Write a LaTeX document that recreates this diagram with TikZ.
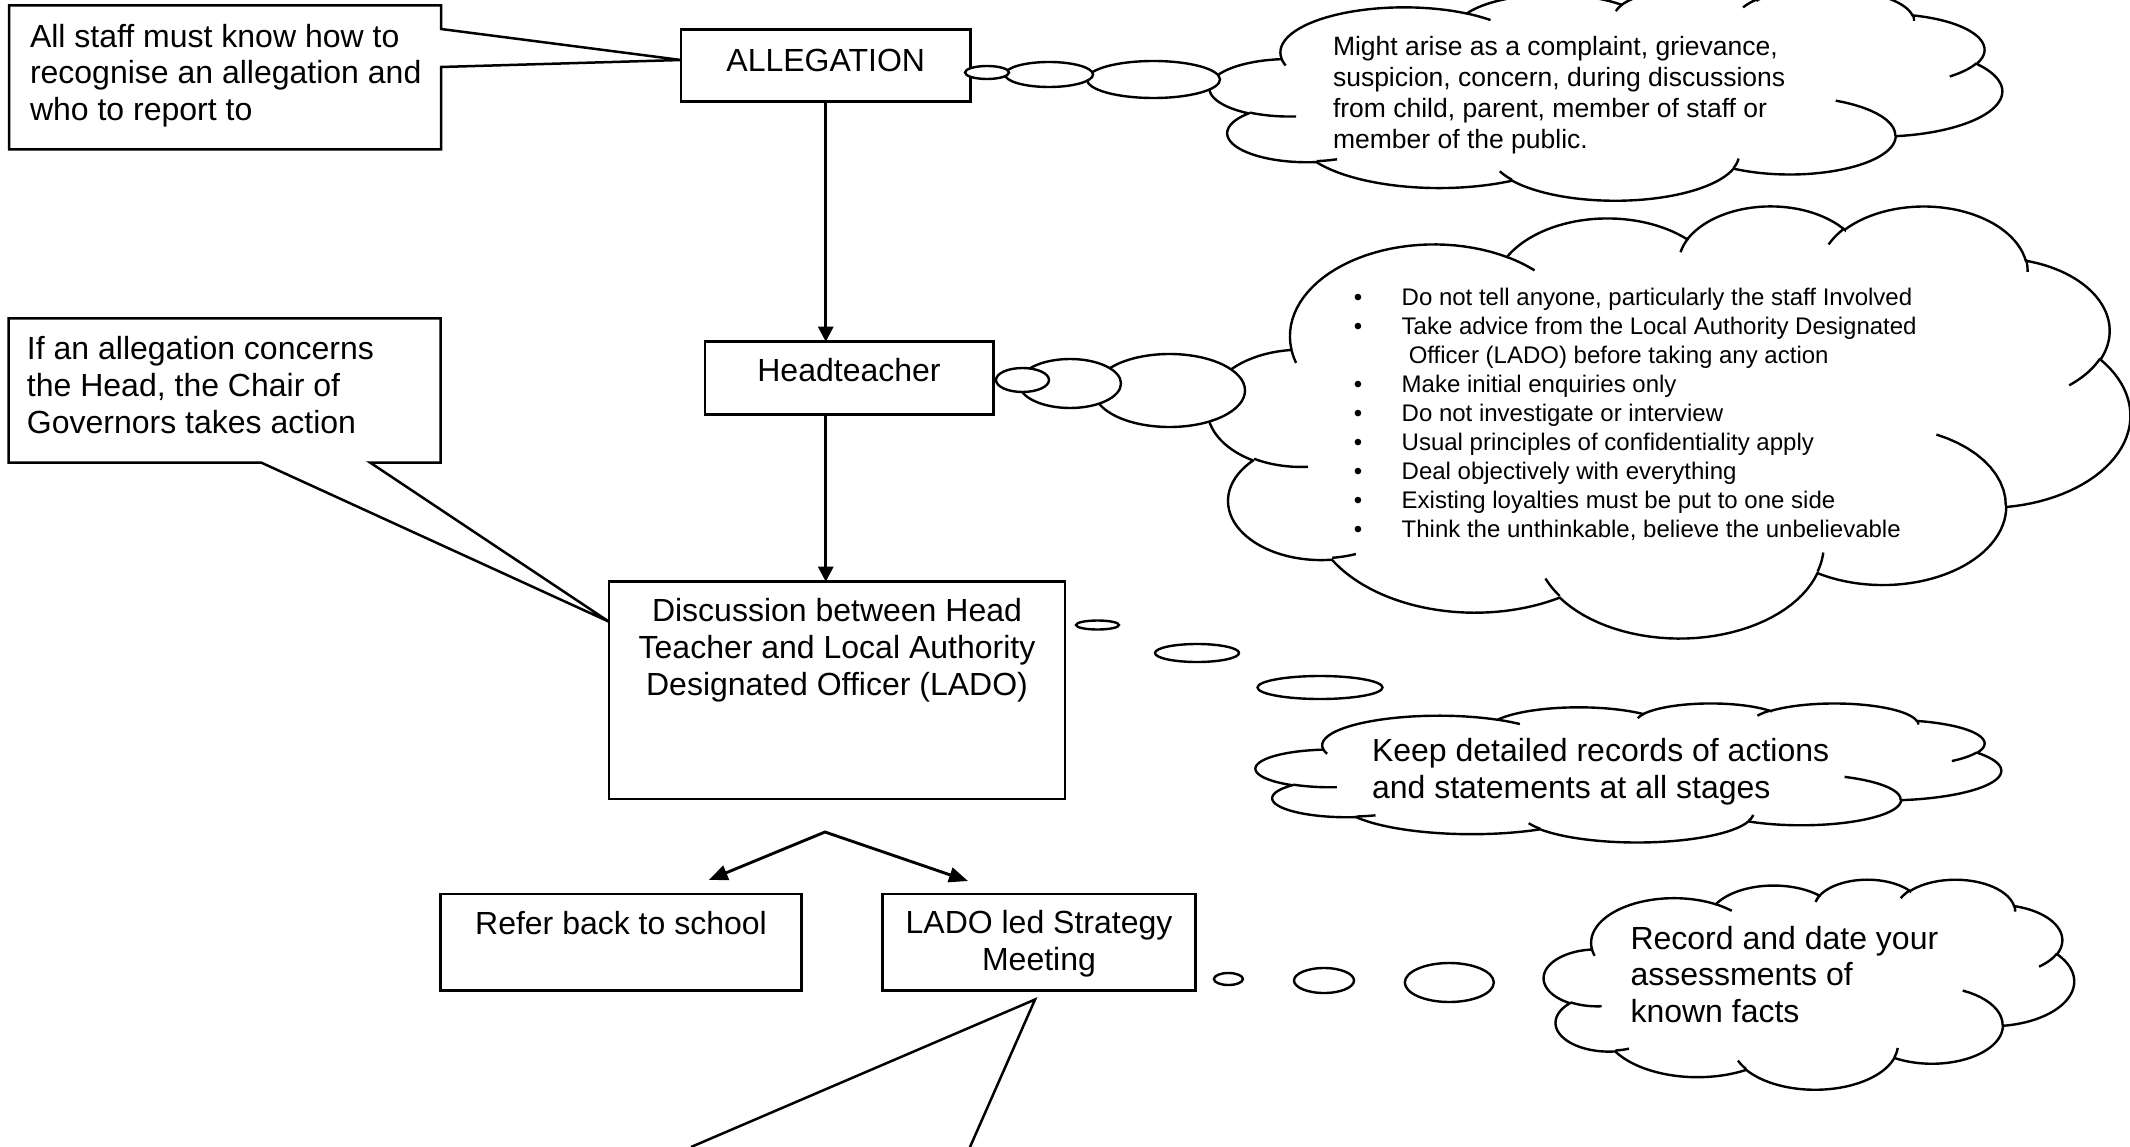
\documentclass[tikz,border=0pt]{standalone}
\usepackage{fontspec}
\setmainfont{Liberation Sans}
\usetikzlibrary{arrows.meta,shapes.geometric,calc}

\newcommand\fMain{\fontsize{32pt}{36.7pt}\selectfont}
\newcommand\fCa{\fontsize{26.5pt}{30.8pt}\selectfont}
\newcommand\fCb{\fontsize{24pt}{29.04pt}\selectfont}
\newcommand\bul{\makebox[47.9pt][l]{\textbullet}}

% Word "cloud" outline, frame 43.2 x 43.2 (y downwards), angles in degrees
\def\cldarcs{6.753/9.190/-190.48748/123.78053,5.333/7.267/-144.10238/89.94523,4.365/5.945/-145.80792/99.72302,4.857/6.595/-130.98607/117.24173,5.333/7.273/-78.70888/109.02692,6.775/9.220/-46.26725/130.269,5.785/7.867/0.62502/114.03333,6.752/9.215/22.4516/115.17255,7.720/10.543/66.24263/75.71102,4.360/5.918/-274.94208/146.73557,4.345/5.945/-246.8285/152.51885}
\def\cldinner{4.693/26.177/4.345/5.945/86.742/26.4295,6.928/34.899/4.360/5.918/73.61047/11.44747,16.478/39.090/6.752/9.215/137.62415/14.0811,28.827/34.751/6.752/9.215/6.45327/15.99835,34.129/22.954/5.785/7.867/-70.29235/70.91737,41.798/15.354/5.333/7.273/30.31803/27.7515,38.324/5.426/4.857/6.595/-13.74433/14.8589,29.078/3.952/4.857/6.595/-149.18145/18.19537,22.141/4.720/4.365/5.945/-163.49427/17.68635,14.000/5.192/6.753/9.190/-66.70695/12.31935,4.127/15.789/6.753/9.190/157.65435/11.85817}

\gdef\cldpath{}
\gdef\cldcx{3.9}\gdef\cldcy{14.37}
\foreach \clrx/\clry/\clst/\clsw in \cldarcs {%
  \pgfmathsetmacro\clta{atan2(\clrx*sin(\clst),\clry*cos(\clst))}%
  \pgfmathsetmacro\cltb{atan2(\clrx*sin(\clst+\clsw),\clry*cos(\clst+\clsw))}%
  \pgfmathsetmacro\cltb{ifthenelse(\cltb<\clta,\cltb+360,\cltb)}%
  \pgfmathsetmacro\clox{\cldcx-\clrx*cos(\clta)}%
  \pgfmathsetmacro\cloy{\cldcy-\clry*sin(\clta)}%
  \pgfmathsetmacro\clnx{\clox+\clrx*cos(\cltb)}%
  \pgfmathsetmacro\clny{\cloy+\clry*sin(\cltb)}%
  \xdef\cldcx{\clnx}\xdef\cldcy{\clny}%
  \xdef\cldpath{\unexpanded\expandafter{\cldpath} -- plot[domain=\clta:\cltb,samples=36,variable=\noexpand\cpar] ({\clox+\clrx*cos(\noexpand\cpar)},{\cloy+\clry*sin(\noexpand\cpar)})}%
}
\gdef\cldinnerpath{}
\foreach \clsx/\clsy/\clrx/\clry/\clst/\clsw in \cldinner {%
  \pgfmathsetmacro\clta{atan2(\clrx*sin(\clst),\clry*cos(\clst))}%
  \pgfmathsetmacro\cltb{atan2(\clrx*sin(\clst+\clsw),\clry*cos(\clst+\clsw))}%
  \pgfmathsetmacro\cltb{ifthenelse(\cltb<\clta,\cltb+360,\cltb)}%
  \pgfmathsetmacro\clox{\clsx-\clrx*cos(\clta)}%
  \pgfmathsetmacro\cloy{\clsy-\clry*sin(\clta)}%
  \xdef\cldinnerpath{\unexpanded\expandafter{\cldinnerpath} plot[domain=\clta:\cltb,samples=12,variable=\noexpand\cpar] ({\clox+\clrx*cos(\noexpand\cpar)},{\cloy+\clry*sin(\noexpand\cpar)})}%
}

\newcommand\drawcloud[5]{% name, x0, y0, w, h
  \pgfmathsetmacro\cldsx{#4/43.2}%
  \pgfmathsetmacro\cldsy{#5/43.2}%
  \begin{scope}[shift={(#2,#3)}, xscale=\cldsx, yscale=\cldsy]
    \draw[cloudline, fill=white] (3.9,14.37) \cldpath -- cycle;
    \draw[cloudline] \cldinnerpath;
    \coordinate (#1) at (21.6,21.6);
  \end{scope}
}

\begin{document}
\begin{tikzpicture}[x=1pt,y=-1pt,
  line join=miter,
  boxline/.style={line width=2.5pt},
  box/.style={draw, line width=2.7pt, rectangle, inner sep=0pt, outer sep=0pt},
  hollow/.style={rectangle, inner sep=0pt, outer sep=0pt},
  txt/.style={inner sep=0pt, outer sep=0pt, align=left, anchor=north west},
  ctxt/.style={inner sep=0pt, outer sep=0pt, align=center, anchor=north},
  btxt/.style={inner sep=0pt, outer sep=0pt, anchor=base},
  arr/.style={line width=2.7pt, -{Triangle[length=15pt,width=15pt]}},
  barr/.style={line width=2.9pt, {Triangle[length=19pt,width=15pt]}-{Triangle[length=19pt,width=15pt]}},
  cloudline/.style={line width=2.4pt},
  tail/.style={ellipse, draw, fill=white, line width=2.4pt, inner sep=0pt, outer sep=0pt},
]
\fill[white] (0,0) rectangle (2130,1147);
\useasboundingbox (0,0) rectangle (2130,1147);

% boxes
\node[hollow, minimum width=432pt, minimum height=144pt] (callA) at (225,77.5) {};
\node[box, minimum width=289.5pt, minimum height=72pt] (alleg) at (825.75,65.5) {};
\node[box, minimum width=288.3pt, minimum height=72.6pt] (head) at (849.15,378) {};
\node[hollow, minimum width=432pt, minimum height=144.2pt] (callB) at (224.5,390.4) {};
\node[box, minimum width=456pt, minimum height=217.3pt] (disc) at (837,690.35) {};
\node[box, minimum width=360.6pt, minimum height=96.5pt] (refer) at (621,942.25) {};
\node[box, minimum width=312.9pt, minimum height=96.5pt] (lado) at (1039.05,942.25) {};

% callouts
\coordinate (tipA) at ($(alleg.west)+(0,-5.5)$);
\draw[boxline] (callA.north west) -- (callA.north east) -- ($(callA.north east)+(0,23.5)$) -- (tipA) -- ($(callA.north east)+(0,61.5)$) -- (callA.south east) -- (callA.south west) -- cycle;
\coordinate (tipB) at ($(disc.north west)+(0,40)$);
\draw[boxline] (callB.north west) -- (callB.north east) -- (callB.south east) -- ($(callB.south west)+(361.5,0)$) -- (tipB) -- ($(callB.south west)+(252.5,0)$) -- (callB.south west) -- cycle;
\coordinate (tipC) at ($(lado.south)+(-4,9)$);
\coordinate (cL) at (691,1147);
\coordinate (cR) at (970,1147);
\draw[boxline] (cL) -- (tipC) -- (cR);

% arrows
\draw[arr] (alleg.south) -- (head.north -| alleg.south);
\draw[arr] (head.south -| alleg.south) -- (disc.north -| alleg.south);
\coordinate (split) at (825,832);
\coordinate (tipL) at (708.7,880);
\coordinate (tipR) at (968,881);
\draw[barr] (tipL) -- (split) -- (tipR);

% clouds
\drawcloud{cloudA}{1210}{-12}{792}{212}
\drawcloud{cloudB}{1208}{205}{922}{432}
\drawcloud{cloudC}{1256}{703}{745}{139}
\drawcloud{cloudD}{1544}{879}{530}{210}

% thought-bubble tails
\node[tail, minimum width=133pt, minimum height=37pt] (t1c) at (1153.5,79.5) {};
\node[tail, minimum width=88pt, minimum height=25pt] (t1b) at (1049,74.5) {};
\node[tail, minimum width=44pt, minimum height=13pt] (t1a) at (987,72.5) {};
\node[tail, minimum width=151pt, minimum height=73pt] (t2c) at (1169.5,390.5) {};
\node[tail, minimum width=102pt, minimum height=49pt] (t2b) at (1070,383.5) {};
\node[tail, minimum width=53pt, minimum height=24pt] (t2a) at (1022.5,380) {};
\node[tail, minimum width=125pt, minimum height=23pt] (t3c) at (1320,687.5) {};
\node[tail, minimum width=84pt, minimum height=18pt] (t3b) at (1197,653) {};
\node[tail, minimum width=43pt, minimum height=9pt] (t3a) at (1097.5,625) {};
\node[tail, minimum width=89pt, minimum height=39pt] (t4c) at (1449.3,982.5) {};
\node[tail, minimum width=60pt, minimum height=25pt] (t4b) at (1324,980.5) {};
\node[tail, minimum width=29pt, minimum height=12pt] (t4a) at (1228.4,979) {};

% texts
\node[txt, font=\fMain] (tA) at (30,21.5) {\strut All staff must know how to\\recognise an allegation and\\who to report to};
\node[btxt, font=\fMain] (tAlleg) at (825.75,71.5) {ALLEGATION};
\node[txt, font=\fMain] (tB) at (27,334.3) {\strut If an allegation concerns\\the Head, the Chair of\\Governors takes action};
\node[btxt, font=\fMain] (tHead) at (849,381.3) {Headteacher};
\node[ctxt, font=\fMain] (tDisc) at (837,596.3) {\strut Discussion between Head\\Teacher and Local Authority\\Designated Officer (LADO)};
\node[btxt, font=\fMain] (tRefer) at (621,934) {Refer back to school};
\node[ctxt, font=\fMain] (tLado) at (1039,908.3) {\strut LADO led Strategy\\Meeting};
\node[txt, font=\fCa] (tC1) at (1333,34.2) {\strut Might arise as a complaint, grievance,\\suspicion, concern, during discussions\\from child, parent, member of staff or\\member of the public.};
\node[txt, font=\fCb] (tC2) at (1353.8,284.8) {\strut\bul Do not tell anyone, particularly the staff Involved\\
\bul Take advice from the Local Authority Designated\\
\hspace*{55pt}Officer (LADO) before taking any action\\
\bul Make initial enquiries only\\
\bul Do not investigate or interview\\
\bul Usual principles of confidentiality apply\\
\bul Deal objectively with everything\\
\bul Existing loyalties must be put to one side\\
\bul Think the unthinkable, believe the unbelievable};
\node[txt, font=\fMain] (tC3) at (1372,736) {\strut Keep detailed records of actions\\and statements at all stages};
\node[txt, font=\fMain] (tC4) at (1630.5,923.5) {\strut Record and date your\\assessments of\\known facts};
\end{tikzpicture}
\end{document}
